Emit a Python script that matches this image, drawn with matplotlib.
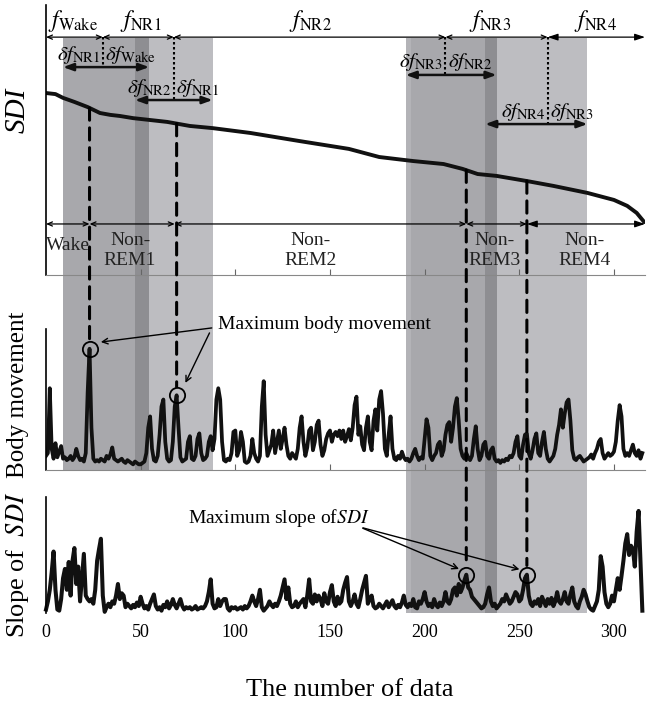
import numpy as np
import matplotlib
matplotlib.use('Agg')
import matplotlib.pyplot as plt
from matplotlib.patches import Rectangle, ConnectionPatch
from matplotlib.transforms import blended_transform_factory

plt.rcParams['font.family'] = ['Liberation Serif', 'DejaVu Serif']
plt.rcParams['mathtext.fontset'] = 'stix'

# SDI curve
sdi_x = [0, 5, 9, 15, 22, 28.5, 34, 39, 46, 55, 64, 76, 88, 108, 134, 160, 176,
         194, 210, 220, 228, 238, 254, 268, 286, 300, 307, 312, 316]
sdi_y = [0.674, 0.670, 0.656, 0.641, 0.622, 0.600, 0.593, 0.589, 0.581, 0.574,
         0.567, 0.552, 0.544, 0.526, 0.496, 0.467, 0.437, 0.422, 0.411, 0.393,
         0.374, 0.367, 0.348, 0.330, 0.304, 0.278, 0.256, 0.230, 0.196]

# body movement, one value per data number 0..315
body = [0.10, 0.12, 0.58, 0.15, 0.08, 0.19, 0.09, 0.13, 0.17, 0.08,
        0.09, 0.07, 0.08, 0.10, 0.07, 0.09, 0.15, 0.10, 0.07, 0.08,
        0.06, 0.12, 0.55, 0.86, 0.30, 0.08, 0.06, 0.07, 0.06, 0.08,
        0.07, 0.06, 0.10, 0.08, 0.11, 0.16, 0.08, 0.07, 0.06, 0.07,
        0.08, 0.06, 0.05, 0.07, 0.06, 0.05, 0.04, 0.06, 0.05, 0.04,
        0.04, 0.05, 0.06, 0.12, 0.30, 0.38, 0.15, 0.07, 0.06, 0.10,
        0.25, 0.45, 0.50, 0.20, 0.08, 0.06, 0.07, 0.20, 0.45, 0.53,
        0.30, 0.09, 0.06, 0.07, 0.08, 0.20, 0.24, 0.08, 0.07, 0.10,
        0.22, 0.26, 0.12, 0.07, 0.08, 0.10, 0.20, 0.24, 0.14, 0.22,
        0.50, 0.58, 0.50, 0.20, 0.07, 0.06, 0.08, 0.07, 0.12, 0.27,
        0.28, 0.10, 0.14, 0.27, 0.20, 0.06, 0.05, 0.06, 0.10, 0.22,
        0.12, 0.08, 0.06, 0.10, 0.45, 0.63, 0.25, 0.10, 0.14, 0.18,
        0.28, 0.12, 0.20, 0.28, 0.15, 0.22, 0.30, 0.18, 0.10, 0.08,
        0.12, 0.10, 0.08, 0.15, 0.30, 0.38, 0.20, 0.10, 0.16, 0.28,
        0.30, 0.14, 0.20, 0.32, 0.35, 0.18, 0.10, 0.14, 0.22, 0.26,
        0.28, 0.20, 0.25, 0.27, 0.24, 0.28, 0.22, 0.28, 0.20, 0.24,
        0.29, 0.21, 0.30, 0.46, 0.52, 0.25, 0.31, 0.18, 0.14, 0.30,
        0.38, 0.20, 0.14, 0.35, 0.43, 0.28, 0.50, 0.56, 0.40, 0.15,
        0.10, 0.25, 0.38, 0.15, 0.08, 0.07, 0.10, 0.08, 0.13, 0.09,
        0.07, 0.08, 0.06, 0.08, 0.12, 0.15, 0.10, 0.07, 0.09, 0.08,
        0.22, 0.36, 0.30, 0.10, 0.07, 0.10, 0.12, 0.18, 0.20, 0.10,
        0.14, 0.25, 0.32, 0.34, 0.20, 0.30, 0.45, 0.51, 0.35, 0.15,
        0.10, 0.08, 0.12, 0.09, 0.07, 0.10, 0.22, 0.31, 0.15, 0.07,
        0.10, 0.18, 0.20, 0.10, 0.08, 0.14, 0.16, 0.08, 0.06, 0.07,
        0.05, 0.07, 0.06, 0.08, 0.07, 0.10, 0.09, 0.12, 0.20, 0.24,
        0.10, 0.08, 0.18, 0.25, 0.26, 0.12, 0.08, 0.14, 0.22, 0.26,
        0.12, 0.10, 0.20, 0.27, 0.15, 0.08, 0.06, 0.08, 0.10, 0.15,
        0.25, 0.32, 0.43, 0.30, 0.40, 0.48, 0.50, 0.35, 0.14, 0.08,
        0.07, 0.09, 0.10, 0.08, 0.06, 0.07, 0.08, 0.09, 0.11, 0.08,
        0.12, 0.15, 0.20, 0.22, 0.12, 0.08, 0.10, 0.12, 0.10, 0.11,
        0.13, 0.20, 0.35, 0.46, 0.38, 0.15, 0.10, 0.12, 0.10, 0.14,
        0.18, 0.12, 0.10, 0.14, 0.08, 0.12]

# slope of SDI, one value per data number 0..315
slope = [0.03, 0.10, 0.20, 0.35, 0.53, 0.20, 0.03, 0.02, 0.12, 0.30,
         0.38, 0.20, 0.44, 0.15, 0.45, 0.56, 0.25, 0.40, 0.10, 0.30,
         0.51, 0.15, 0.12, 0.10, 0.12, 0.08, 0.20, 0.45, 0.55, 0.64,
         0.15, 0.01, 0.05, 0.08, 0.05, 0.10, 0.08, 0.15, 0.25, 0.12,
         0.17, 0.15, 0.05, 0.08, 0.06, 0.04, 0.07, 0.05, 0.09, 0.06,
         0.14, 0.08, 0.04, 0.06, 0.03, 0.08, 0.12, 0.16, 0.06, 0.03,
         0.05, 0.02, 0.07, 0.05, 0.10, 0.04, 0.07, 0.12, 0.07, 0.04,
         0.08, 0.12, 0.06, 0.03, 0.05, 0.04, 0.05, 0.03, 0.04, 0.06,
         0.03, 0.04, 0.05, 0.04, 0.06, 0.10, 0.18, 0.29, 0.08, 0.04,
         0.05, 0.12, 0.06, 0.10, 0.12, 0.12, 0.04, 0.02, 0.05, 0.04,
         0.05, 0.03, 0.04, 0.05, 0.03, 0.06, 0.04, 0.06, 0.10, 0.15,
         0.10, 0.06, 0.12, 0.20, 0.05, 0.02, 0.04, 0.06, 0.10, 0.07,
         0.05, 0.08, 0.06, 0.10, 0.15, 0.22, 0.29, 0.12, 0.22, 0.08,
         0.05, 0.06, 0.10, 0.05, 0.08, 0.10, 0.12, 0.05, 0.15, 0.29,
         0.10, 0.08, 0.16, 0.10, 0.15, 0.12, 0.06, 0.17, 0.10, 0.08,
         0.18, 0.24, 0.10, 0.06, 0.14, 0.08, 0.10, 0.20, 0.26, 0.31,
         0.10, 0.06, 0.10, 0.16, 0.08, 0.05, 0.12, 0.20, 0.26, 0.32,
         0.08, 0.12, 0.15, 0.06, 0.04, 0.05, 0.08, 0.06, 0.04, 0.07,
         0.10, 0.05, 0.08, 0.11, 0.06, 0.04, 0.07, 0.05, 0.09, 0.15,
         0.07, 0.05, 0.08, 0.06, 0.12, 0.05, 0.04, 0.10, 0.08, 0.12,
         0.18, 0.10, 0.06, 0.08, 0.05, 0.12, 0.07, 0.05, 0.09, 0.06,
         0.10, 0.18, 0.10, 0.08, 0.12, 0.20, 0.22, 0.15, 0.25, 0.18,
         0.22, 0.28, 0.33, 0.22, 0.20, 0.14, 0.12, 0.10, 0.08, 0.06,
         0.04, 0.05, 0.08, 0.16, 0.22, 0.10, 0.06, 0.08, 0.04, 0.06,
         0.08, 0.12, 0.10, 0.16, 0.12, 0.08, 0.10, 0.14, 0.18, 0.16,
         0.10, 0.12, 0.20, 0.30, 0.33, 0.15, 0.08, 0.06, 0.10, 0.08,
         0.12, 0.06, 0.14, 0.10, 0.06, 0.12, 0.08, 0.13, 0.06, 0.10,
         0.18, 0.10, 0.08, 0.12, 0.18, 0.10, 0.08, 0.16, 0.22, 0.10,
         0.06, 0.04, 0.10, 0.14, 0.20, 0.16, 0.10, 0.05, 0.03, 0.02,
         0.06, 0.10, 0.20, 0.49, 0.40, 0.18, 0.08, 0.05, 0.08, 0.15,
         0.10, 0.20, 0.30, 0.20, 0.32, 0.45, 0.60, 0.68, 0.50, 0.58,
         0.55, 0.40, 0.70, 0.88, 0.45, 0.02]

stage_edges = [0, 23, 68, 222, 254, 316.4]
stage_names = ['Wake', 'Non-\nREM1', 'Non-\nREM2', 'Non-\nREM3', 'Non-\nREM4']
stage_text_x = [11.6, 44.4, 139.5, 237, 284.7]
f_edges = [0, 30, 67.5, 211, 265, 316.4]
f_names = ['Wake', 'NR1', 'NR2', 'NR3', 'NR4']
f_text_x = [14.5, 50, 139.5, 234.5, 290]
body_peaks = [23, 69]
slope_peaks = [222, 254]

# shaded transition windows (start, end, colour), group 1 then group 2
shade1 = [(9, 47, '#a8a8ac'), (47, 54.5, '#8e8e92'), (54.5, 88, '#bdbdc1')]
shade2 = [(190, 193, '#b3b3b7'), (193, 232, '#a8a8ac'), (232, 238, '#8e8e92'),
          (238, 286, '#bdbdc1')]

W, H = 658, 709
fig = plt.figure(figsize=(W / 100, H / 100), dpi=100)


def fy(py):
    return 1 - py / H


left = 46 / W
width = 599 / W
ax_top = fig.add_axes([left, fy(275), width, 270 / H])
ax_mid = fig.add_axes([left, fy(470), width, 141 / H])
ax_bot = fig.add_axes([left, fy(613), width, 116 / H])

xmax = 316.4
for ax in (ax_top, ax_mid, ax_bot):
    ax.set_facecolor('none')
    ax.set_xlim(0, xmax)
    ax.set_ylim(0, 1)
    ax.set_yticks([])
    for s in ('top', 'right'):
        ax.spines[s].set_visible(False)
    ax.spines['left'].set_color('black')
    ax.spines['left'].set_linewidth(1.2)
    ax.spines['bottom'].set_color('#888888')
    ax.spines['bottom'].set_linewidth(0.8)

for ax in (ax_top, ax_mid):
    ax.set_xticks([50, 100, 150, 200, 250, 300])
    ax.tick_params(axis='x', direction='in', length=4, color='#666666',
                   labelbottom=False)
ax_bot.spines['bottom'].set_visible(False)
ax_bot.set_xticks([0, 50, 100, 150, 200, 250, 300])
ax_bot.tick_params(axis='x', length=0, labelsize=13, pad=8)

# shading across panels
tr = blended_transform_factory(ax_top.transData, fig.transFigure)
for a, b, c in shade1:
    fig.add_artist(Rectangle((a, fy(470)), b - a, fy(38) - fy(470),
                             transform=tr, color=c, lw=0, zorder=-1))
for a, b, c in shade2:
    fig.add_artist(Rectangle((a, fy(613)), b - a, fy(38) - fy(613),
                             transform=tr, color=c, lw=0, zorder=-1))

# data lines
n = np.arange(len(body))
ax_top.plot(sdi_x, sdi_y, color='#111111', lw=2.8, solid_capstyle='round')
ax_mid.plot(n, body, color='#111111', lw=2.7, solid_joinstyle='round')
ax_bot.plot(np.arange(len(slope)), slope, color='#111111', lw=2.9,
            solid_joinstyle='round', clip_on=False)

# f segments
y_f = 0.881
for i in range(len(f_names)):
    a, b = f_edges[i], f_edges[i + 1]
    st = ('<->,head_length=0.35,head_width=0.15' if i < len(f_names) - 1
          else '<|-|>,head_length=0.6,head_width=0.2')
    ax_top.annotate('', xy=(b, y_f), xytext=(a, y_f),
                    arrowprops=dict(arrowstyle=st, lw=0.9, color='black',
                                    shrinkA=0, shrinkB=0),
                    annotation_clip=False)
    ax_top.text(f_text_x[i], 0.94, r'$f_{\rm %s}$' % f_names[i], fontsize=17,
                ha='center', va='center')

# boundary dotted lines down to delta-f arrows
dot_ends = [0.770, 0.648, 0.741, 0.559]
for x, y2 in zip(f_edges[1:5], dot_ends):
    ax_top.plot([x, x], [y_f, y2], color='black', lw=1.5, ls=(0, (1.2, 1.2)))

# delta-f arrows
dfa = [(9, 54.5, 0.770, 'NR1', 'Wake', 0.815),
       (47, 88, 0.648, 'NR2', 'NR1', 0.693),
       (190, 238, 0.741, 'NR3', 'NR2', 0.789),
       (232, 286, 0.559, 'NR4', 'NR3', 0.604)]
for (a, b, y, l1, l2, yt), xe in zip(dfa, f_edges[1:5]):
    ax_top.annotate('', xy=(b, y), xytext=(a, y),
                    arrowprops=dict(arrowstyle='<|-|>,head_length=0.6,head_width=0.22',
                                    lw=1.8, color='#111111', shrinkA=0, shrinkB=0))
    ax_top.text(xe - 1.2, yt, r'$\delta f_{\rm %s}$' % l1, fontsize=15,
                ha='right', va='center')
    ax_top.text(xe + 1.2, yt, r'$\delta f_{\rm %s}$' % l2, fontsize=15,
                ha='left', va='center')

# sleep stage segments
y_s = 0.189
for i in range(len(stage_names)):
    a, b = stage_edges[i], stage_edges[i + 1]
    st = ('<->,head_length=0.35,head_width=0.15' if i < len(stage_names) - 1
          else '<|-|>,head_length=0.6,head_width=0.2')
    ax_top.annotate('', xy=(b, y_s), xytext=(a, y_s),
                    arrowprops=dict(arrowstyle=st, lw=0.9, color='black',
                                    shrinkA=0, shrinkB=0),
                    annotation_clip=False)
    ax_top.text(stage_text_x[i], 0.111 if i == 0 else 0.090, stage_names[i],
                fontsize=14, ha='center', va='center', linespacing=1.25,
                color='#222222')

# circles on maxima
bm = [body[p] for p in body_peaks]
sl = [slope[p] for p in slope_peaks]
ax_mid.plot(body_peaks, bm, 'o', ms=11, mfc='none', mec='black', mew=1.3,
            clip_on=False)
ax_bot.plot(slope_peaks, sl, 'o', ms=11, mfc='none', mec='black', mew=1.3,
            clip_on=False)

# dashed connectors from SDI curve to maxima
for p, v in zip(body_peaks, bm):
    con = ConnectionPatch(xyA=(p, np.interp(p, sdi_x, sdi_y)), coordsA=ax_top.transData,
                          xyB=(p, v + 0.06), coordsB=ax_mid.transData,
                          color='black', lw=2.2, ls=(0, (4, 2.5)))
    fig.add_artist(con)
for p, v in zip(slope_peaks, sl):
    con = ConnectionPatch(xyA=(p, np.interp(p, sdi_x, sdi_y)), coordsA=ax_top.transData,
                          xyB=(p, v + 0.08), coordsB=ax_bot.transData,
                          color='black', lw=2.2, ls=(0, (4, 2.5)))
    fig.add_artist(con)

# annotations
ax_mid.text(91, 1.03, 'Maximum body movement', fontsize=14, ha='left',
            va='center')
ax_mid.annotate('', xy=(27.5, 0.905), xytext=(89, 1.01),
                arrowprops=dict(arrowstyle='->', lw=1.0, color='black'),
                annotation_clip=False)
ax_mid.annotate('', xy=(73, 0.60), xytext=(87, 0.99),
                arrowprops=dict(arrowstyle='->', lw=1.0, color='black'),
                annotation_clip=False)

ax_bot.text(75, 0.82, r'Maximum slope of$\mathit{SDI}$', fontsize=14,
            ha='left', va='center')
for xp in (219.5, 251.5):
    ax_bot.annotate('', xy=(xp, 0.37), xytext=(166, 0.74),
                    arrowprops=dict(arrowstyle='->', lw=1.0, color='black'),
                    annotation_clip=False)

# axis labels
fig.text(18 / W, fy(110), 'SDI', rotation=90, fontsize=21, style='italic',
         ha='center', va='center')
fig.text(18 / W, fy(395), 'Body movement', rotation=90, fontsize=18,
         ha='center', va='center')
fig.text(18 / W, fy(565), r'Slope of  $SDI$', rotation=90, fontsize=19,
         ha='center', va='center')
fig.text(350 / W, fy(690), 'The number of data', fontsize=19,
         ha='center', va='center')

fig.savefig('out.png', dpi=100)
